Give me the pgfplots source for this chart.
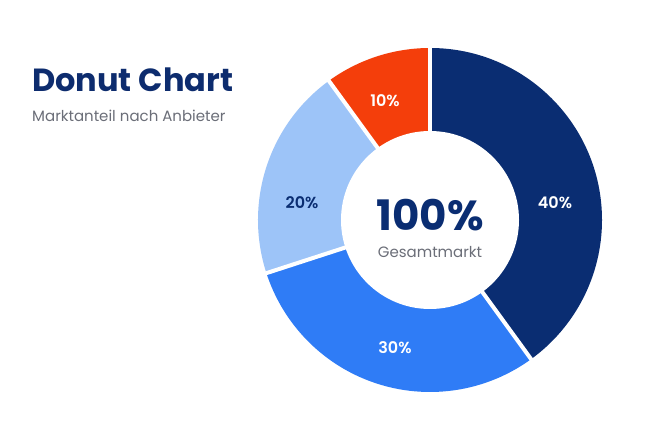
\documentclass[border=0pt]{standalone}
\usepackage{fontspec}
\setmainfont{Poppins}
\newfontfamily\semib{Poppins SemiBold}
\usepackage{pgfplots}
\usepackage{pgfplotstable}
\pgfplotsset{compat=1.18}
\definecolor{cnavy}{HTML}{0A2D72}
\definecolor{cblue}{HTML}{2F7CF6}
\definecolor{clight}{HTML}{9DC4F8}
\definecolor{corange}{HTML}{F43E0B}
\definecolor{ctitle}{HTML}{0D2C6E}
\definecolor{cgray}{HTML}{6B6E78}
\pgfplotstableread{
label value
A 40
B 30
C 20
D 10
}\donutdata
\pgfplotstablegetelem{0}{value}\of\donutdata \let\vA\pgfplotsretval
\pgfplotstablegetelem{1}{value}\of\donutdata \let\vB\pgfplotsretval
\pgfplotstablegetelem{2}{value}\of\donutdata \let\vC\pgfplotsretval
\pgfplotstablegetelem{3}{value}\of\donutdata \let\vD\pgfplotsretval
\pgfmathsetmacro\aA{90}
\pgfmathsetmacro\aB{\aA-3.6*\vA}
\pgfmathsetmacro\aC{\aB-3.6*\vB}
\pgfmathsetmacro\aD{\aC-3.6*\vC}
\pgfmathsetmacro\aE{\aD-3.6*\vD}
\begin{document}
\begin{tikzpicture}
\begin{axis}[x=1bp,y=1bp,xmin=0,xmax=650,ymin=0,ymax=433,hide axis,scale only axis,clip=false,anchor=south west,at={(0,0)}]
\fill[white] (axis cs:0,0) rectangle (axis cs:650,433);
\begin{scope}[shift={(axis cs:430,213)}]
\fill[cnavy] (0,0) -- (\aA:172bp) arc[start angle=\aA,end angle=\aB,radius=172bp] -- cycle;
\fill[cblue] (0,0) -- (\aB:172bp) arc[start angle=\aB,end angle=\aC,radius=172bp] -- cycle;
\fill[clight] (0,0) -- (\aC:172bp) arc[start angle=\aC,end angle=\aD,radius=172bp] -- cycle;
\fill[corange] (0,0) -- (\aD:172bp) arc[start angle=\aD,end angle=\aE,radius=172bp] -- cycle;
\draw[white,line width=4bp] (0,0) -- (\aA:175bp);
\draw[white,line width=4bp] (0,0) -- (\aB:175bp);
\draw[white,line width=4bp] (0,0) -- (\aC:175bp);
\draw[white,line width=4bp] (0,0) -- (\aD:175bp);
\fill[white] (0,0) circle[radius=89bp];
\end{scope}
\node[text=white,font=\fontsize{16bp}{18bp}\semib] at (axis cs:555,230) {\vA\%};
\node[text=white,font=\fontsize{16bp}{18bp}\semib] at (axis cs:395,85) {\vB\%};
\node[text=cnavy,font=\fontsize{16bp}{18bp}\semib] at (axis cs:302,230) {\vC\%};
\node[text=white,font=\fontsize{16bp}{18bp}\semib] at (axis cs:385,332) {\vD\%};
\node[text=cnavy,font=\fontsize{42bp}{46bp}\selectfont\bfseries] at (axis cs:430,218) {100\%};
\node[text=cgray,font=\fontsize{15bp}{18bp}\selectfont] at (axis cs:430,181) {Gesamtmarkt};
\node[anchor=base west,inner sep=0pt,text=ctitle,font=\fontsize{32bp}{36bp}\selectfont\bfseries] at (axis cs:32,341) {Donut Chart};
\node[anchor=base west,inner sep=0pt,text=cgray,font=\fontsize{15bp}{18bp}\selectfont] at (axis cs:32,311) {Marktanteil nach Anbieter};
\end{axis}
\end{tikzpicture}
\end{document}
